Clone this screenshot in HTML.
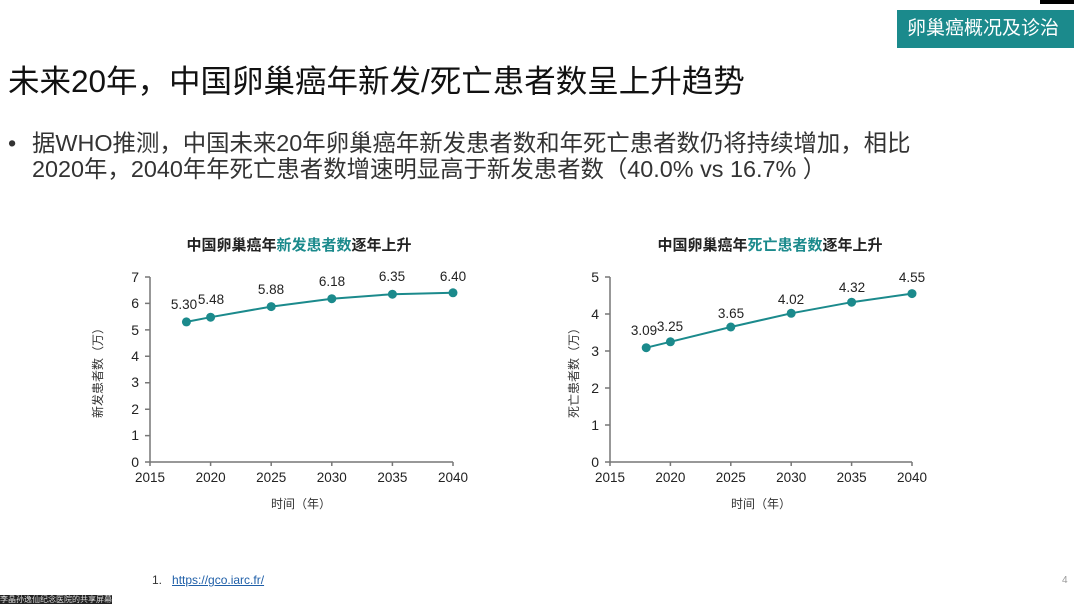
<!DOCTYPE html>
<html><head><meta charset="utf-8"><style>
body{margin:0;width:1074px;height:604px;background:#fff;position:relative;overflow:hidden;font-family:"Liberation Sans","Noto Sans CJK SC",sans-serif}
.tag{position:absolute;left:897px;top:10px;width:177px;height:38px;background:#1b8a8c;color:#fff;font-size:19px;line-height:38px;text-indent:10px}
.blk{position:absolute;left:1040px;top:0;width:34px;height:4px;background:#000}
.title{position:absolute;left:8px;top:56px;font-size:31.5px;color:#111;white-space:nowrap}
.bul{position:absolute;left:8px;top:130px;font-size:23.4px;color:#333;line-height:26px;white-space:nowrap}
.bul span{position:absolute;left:0}
.bul div{margin-left:24px}
.ref{position:absolute;left:152px;top:573px;font-size:12px;color:#333}
.ref a{color:#1f5fa8;text-decoration:underline;margin-left:10px}
.wm{position:absolute;left:0;top:595px;font-size:8px;background:#222;color:#ddd;line-height:9px}
.pg{position:absolute;left:1062px;top:575px;font-size:10px;color:#999}
</style></head><body>
<div class="blk"></div>
<div class="tag">卵巢癌概况及诊治</div>
<div class="title">未来20年，中国卵巢癌年新发/死亡患者数呈上升趋势</div>
<div class="bul"><span>•</span><div>据WHO推测，中国未来20年卵巢癌年新发患者数和年死亡患者数仍将持续增加，相比<br>2020年，2040年年死亡患者数增速明显高于新发患者数（40.0% vs 16.7% ）</div></div>
<svg width="1074" height="604" style="position:absolute;left:0;top:0" font-family="Liberation Sans, Noto Sans CJK SC, sans-serif">
<g font-size="15" font-weight="bold" text-anchor="middle" fill="#222">
<text x="299" y="250">中国卵巢癌年<tspan fill="#1b8a8c">新发患者数</tspan>逐年上升</text>
<text x="770" y="250">中国卵巢癌年<tspan fill="#1b8a8c">死亡患者数</tspan>逐年上升</text>
</g>
<g stroke="#777" stroke-width="1.5" fill="none">
<path d="M150 277V462H453"/>
<path d="M145 277H150M145 303.4H150M145 329.9H150M145 356.3H150M145 382.7H150M145 409.2H150M145 435.6H150M145 462H150"/>
<path d="M150 462v4M210.6 462v4M271.2 462v4M331.8 462v4M392.4 462v4M453 462v4"/>
<path d="M610 277V462H912"/>
<path d="M605 277H610M605 314H610M605 351H610M605 388H610M605 425H610M605 462H610"/>
<path d="M610 462v4M670.4 462v4M730.8 462v4M791.2 462v4M851.6 462v4M912 462v4"/>
</g>
<g font-size="14" fill="#222" text-anchor="end">
<text x="139" y="282">7</text><text x="139" y="308">6</text><text x="139" y="335">5</text><text x="139" y="361">4</text><text x="139" y="387">3</text><text x="139" y="414">2</text><text x="139" y="440">1</text><text x="139" y="467">0</text>
<text x="599" y="282">5</text><text x="599" y="319">4</text><text x="599" y="356">3</text><text x="599" y="393">2</text><text x="599" y="430">1</text><text x="599" y="467">0</text>
</g>
<g font-size="13.5" fill="#222" text-anchor="middle">
<text x="150" y="482">2015</text><text x="210.6" y="482">2020</text><text x="271.2" y="482">2025</text><text x="331.8" y="482">2030</text><text x="392.4" y="482">2035</text><text x="453" y="482">2040</text>
<text x="610" y="482">2015</text><text x="670.4" y="482">2020</text><text x="730.8" y="482">2025</text><text x="791.2" y="482">2030</text><text x="851.6" y="482">2035</text><text x="912" y="482">2040</text>
<text x="184" y="309">5.30</text><text x="211" y="304">5.48</text><text x="271" y="294">5.88</text><text x="332" y="286">6.18</text><text x="392" y="281">6.35</text><text x="453" y="281">6.40</text>
<text x="644" y="335">3.09</text><text x="670" y="331">3.25</text><text x="731" y="318">3.65</text><text x="791" y="304">4.02</text><text x="852" y="292">4.32</text><text x="912" y="282">4.55</text>
</g>
<g font-size="12" fill="#333" text-anchor="middle">
<text x="301" y="508">时间（年）</text><text x="761" y="508">时间（年）</text>
<text transform="translate(102 370) rotate(-90)">新发患者数（万）</text>
<text transform="translate(578 370) rotate(-90)">死亡患者数（万）</text>
</g>
<g stroke="#1b8a8c" stroke-width="2" fill="none">
<polyline points="186.4,321.9 210.6,317.2 271.2,306.6 331.8,298.7 392.4,294.2 453,292.8"/>
<polyline points="646.2,347.7 670.4,341.8 730.8,327 791.2,313.3 851.6,302.2 912,293.6"/>
</g>
<g fill="#1b8a8c">
<circle cx="186.4" cy="321.9" r="4.5"/><circle cx="210.6" cy="317.2" r="4.5"/><circle cx="271.2" cy="306.6" r="4.5"/><circle cx="331.8" cy="298.7" r="4.5"/><circle cx="392.4" cy="294.2" r="4.5"/><circle cx="453" cy="292.8" r="4.5"/>
<circle cx="646.2" cy="347.7" r="4.5"/><circle cx="670.4" cy="341.8" r="4.5"/><circle cx="730.8" cy="327" r="4.5"/><circle cx="791.2" cy="313.3" r="4.5"/><circle cx="851.6" cy="302.2" r="4.5"/><circle cx="912" cy="293.6" r="4.5"/>
</g>
</svg>
<div class="ref">1.<a>https://gco.iarc.fr/</a></div>
<div class="pg">4</div>
<div class="wm">李晶孙逸仙纪念医院的共享屏幕</div>
</body></html>
